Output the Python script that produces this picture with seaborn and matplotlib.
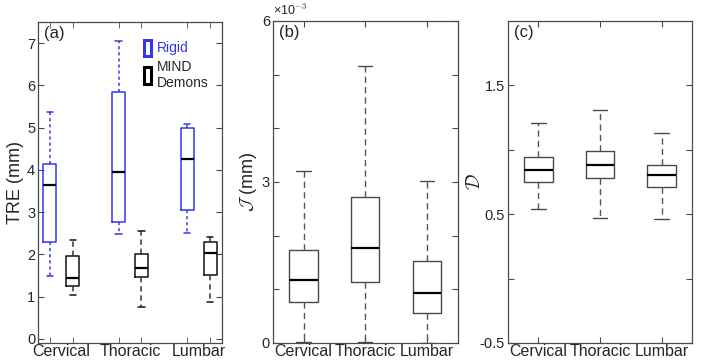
import numpy as np
import pandas as pd
import matplotlib
matplotlib.use('Agg')
import matplotlib.pyplot as plt
import matplotlib.patches as mpatches
import seaborn as sns

regions = ['Cervical', 'Thoracic', 'Lumbar']
methods = ['Rigid', 'MIND Demons']

# five numbers per box: whisker low, Q1, median, Q3, whisker high
tre_rigid = [[1.48, 2.30, 3.65, 4.13, 5.38],
             [2.48, 2.77, 3.95, 5.83, 7.05],
             [2.50, 3.05, 4.25, 5.00, 5.08]]
tre_mind = [[1.03, 1.25, 1.43, 1.95, 2.33],
            [0.75, 1.46, 1.68, 2.00, 2.55],
            [0.87, 1.50, 2.02, 2.30, 2.42]]
jac = [[0.00001, 0.00077, 0.00117, 0.00174, 0.00320],
       [0.00002, 0.00113, 0.00177, 0.00272, 0.00515],
       [0.00000, 0.00055, 0.00093, 0.00153, 0.00302]]
dist = [[0.54, 0.75, 0.84, 0.94, 1.21],
        [0.47, 0.78, 0.88, 0.99, 1.31],
        [0.46, 0.71, 0.80, 0.88, 1.13]]

blue = '#3535f0'
grey = '#4a4a4a'

rows = []
for r, a, b in zip(regions, tre_rigid, tre_mind):
    rows += [(r, 'Rigid', v) for v in a]
    rows += [(r, 'MIND Demons', v) for v in b]
df_a = pd.DataFrame(rows, columns=['region', 'method', 'value'])
df_b = pd.DataFrame([(r, v) for r, vals in zip(regions, jac) for v in vals], columns=['region', 'value'])
df_c = pd.DataFrame([(r, v) for r, vals in zip(regions, dist) for v in vals], columns=['region', 'value'])

sns.set_style('white')
plt.rcParams['font.family'] = ['Liberation Sans', 'DejaVu Sans']
plt.rcParams['mathtext.fontset'] = 'cm'

fig = plt.figure(figsize=(7.01, 3.64), dpi=100)
ax1 = fig.add_axes([0.0542, 0.0577, 0.2625, 0.882])
ax2 = fig.add_axes([0.389, 0.0577, 0.264, 0.885])
ax3 = fig.add_axes([0.7243, 0.0577, 0.2633, 0.885])

med = dict(color='black', linewidth=1.6)

# (a) TRE
sns.boxplot(data=df_a, x='region', y='value', hue='method', order=regions, hue_order=methods,
            palette={'Rigid': blue, 'MIND Demons': '#111111'}, fill=False, whis=(0, 100),
            width=0.667, gap=0.43, showfliers=False, linewidth=1.1, medianprops=med,
            legend=False, ax=ax1)
for c, ls, col in zip(ax1.containers, [(0, (2, 2)), (0, (3.5, 2.5))], [blue, '#333333']):
    for w in c.whiskers:
        w.set_linestyle(ls)
        w.set_color(col)
    for m in c.medians:
        m.set_color('black')
ax1.set_xlim(-0.34, 2.34)
ax1.set_ylim(-0.1, 7.5)
ax1.set_yticks(range(0, 8))
ax1.set_xticks([0, 1, 2])
ax1.set_xticks([-0.167, 0.167, 0.833, 1.167, 1.833, 2.167], minor=True)
ax1.tick_params(axis='x', which='major', length=0)
ax1.tick_params(axis='x', which='minor', direction='in', length=4, top=True, bottom=True, color=grey)
ax1.set_ylabel('TRE (mm)', fontsize=13, labelpad=2)
ax1.text(0.035, 0.965, '(a)', transform=ax1.transAxes, fontsize=12, va='center', ha='left')
handles = [mpatches.Patch(facecolor='none', edgecolor=blue, linewidth=2.2, label='Rigid'),
           mpatches.Patch(facecolor='none', edgecolor='black', linewidth=2.2, label='MIND\nDemons')]
leg = ax1.legend(handles=handles, loc='upper left', bbox_to_anchor=(0.575, 0.945), frameon=False,
                 fontsize=10, handlelength=0.55, handleheight=1.45, handletextpad=0.4,
                 labelspacing=0.25, borderpad=0, borderaxespad=0)
leg.get_texts()[0].set_color(blue)

# (b) Jacobian
sns.boxplot(data=df_b, x='region', y='value', order=regions, color=grey, fill=False,
            whis=(0, 100), width=0.46, showfliers=False, linewidth=1.0, medianprops=med, ax=ax2)
ax2.set_xlim(-0.5, 2.5)
ax2.set_ylim(0, 0.006)
ax2.set_yticks(np.arange(0, 7) * 1e-3)
ax2.set_yticklabels(['0', '', '', '3', '', '', '6'])
ax2.set_ylabel(r'$\mathcal{J}$ (mm)', fontsize=13, labelpad=2)
ax2.text(0.035, 0.965, '(b)', transform=ax2.transAxes, fontsize=12, va='center', ha='left')
ax2.text(0.0, 1.01, r'×10$^{\mathsf{-3}}$', transform=ax2.transAxes, fontsize=9, va='bottom', ha='left')

# (c) distance
sns.boxplot(data=df_c, x='region', y='value', order=regions, color=grey, fill=False,
            whis=(0, 100), width=0.46, showfliers=False, linewidth=1.0, medianprops=med, ax=ax3)
ax3.set_xlim(-0.5, 2.5)
ax3.set_ylim(-0.5, 2.0)
ax3.set_yticks([-0.5, 0, 0.5, 1.0, 1.5])
ax3.set_yticklabels(['-0.5', '', '0.5', '', '1.5'])
ax3.set_ylabel(r'$\mathcal{D}$', fontsize=14)
ax3.yaxis.set_label_coords(-0.13, 0.5)
ax3.text(0.035, 0.965, '(c)', transform=ax3.transAxes, fontsize=12, va='center', ha='left')

for ax in (ax2, ax3):
    for c in ax.containers:
        for w in c.whiskers:
            w.set_linestyle((0, (4.5, 3)))
            w.set_color('#555555')
        for m in c.medians:
            m.set_color('black')
    ax.tick_params(axis='x', direction='in', length=4, top=True, bottom=True, color=grey)

for ax in (ax1, ax2, ax3):
    ax.set_xlabel('')
    ax.tick_params(axis='y', direction='in', length=4, left=True, right=True, color=grey, labelsize=10.5, pad=2)
    ax.tick_params(axis='x', labelsize=11.5, pad=1)
    for s in ax.spines.values():
        s.set_color(grey)
        s.set_linewidth(0.9)

fig.savefig('out.png', dpi=100)
